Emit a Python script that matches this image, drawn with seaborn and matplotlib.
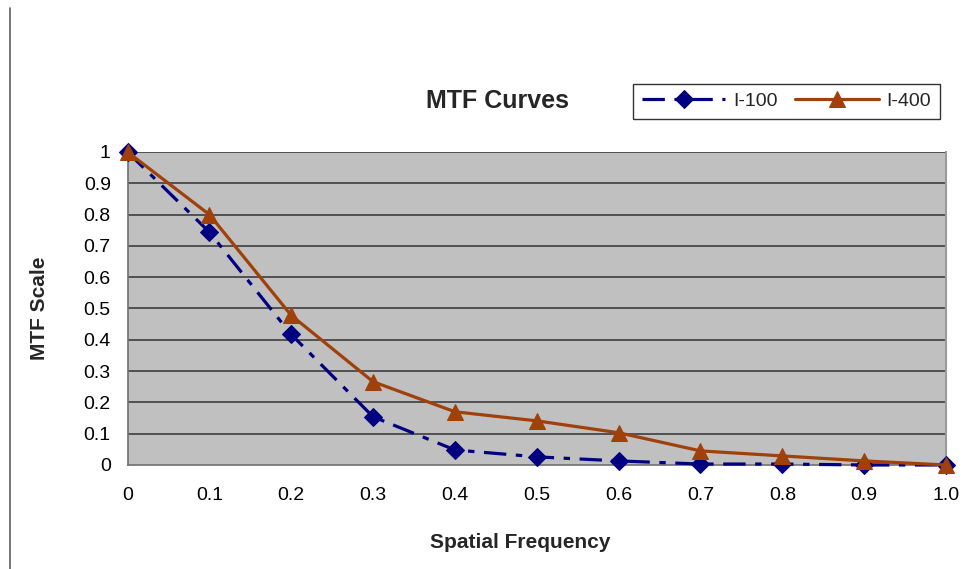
import matplotlib
matplotlib.use("Agg")
import matplotlib.pyplot as plt
from matplotlib.lines import Line2D
import seaborn as sns
import pandas as pd

# Data
freq = [0.0, 0.1, 0.2, 0.3, 0.4, 0.5, 0.6, 0.7, 0.8, 0.9, 1.0]
i100 = [1.0, 0.744, 0.417, 0.154, 0.048, 0.026, 0.013, 0.003, 0.003, 0.0, 0.0]
i400 = [1.0, 0.80, 0.478, 0.266, 0.17, 0.141, 0.103, 0.045, 0.029, 0.013, 0.0]
x_ticklabels = ["0", "0.1", "0.2", "0.3", "0.4", "0.5", "0.6", "0.7", "0.8", "0.9", "1.0"]
y_ticks = [0, 0.1, 0.2, 0.3, 0.4, 0.5, 0.6, 0.7, 0.8, 0.9, 1.0]
y_ticklabels = ["0", "0.1", "0.2", "0.3", "0.4", "0.5", "0.6", "0.7", "0.8", "0.9", "1"]

sns.set_style("white")
plt.rcParams["font.family"] = ["Liberation Sans", "DejaVu Sans"]

fig = plt.figure(figsize=(9.69, 5.69), dpi=100)
ax = fig.add_axes([0.1316, 0.1828, 0.9763 - 0.1316, 0.7329 - 0.1828])
ax.set_facecolor("#C0C0C0")

df100 = pd.DataFrame({"x": freq, "y": i100})
df400 = pd.DataFrame({"x": freq, "y": i400})

sns.lineplot(data=df100, x="x", y="y", ax=ax, color="#000080", marker="D",
             markersize=9.5, markeredgecolor="#000080", linewidth=2.3,
             linestyle=(0, (7, 3, 2, 3)), label="I-100", clip_on=False, zorder=4)
sns.lineplot(data=df400, x="x", y="y", ax=ax, color="#A0400A", marker="^",
             markersize=12, markeredgecolor="#A0400A", linewidth=2.3,
             linestyle="-", label="I-400", clip_on=False, zorder=5)

ax.set_xlim(0, 1.0)
ax.set_ylim(0, 1.0)
ax.set_xticks(freq)
ax.set_xticklabels(x_ticklabels, fontsize=14)
ax.set_yticks(y_ticks)
ax.set_yticklabels(y_ticklabels, fontsize=14)
ax.tick_params(axis="both", direction="out", length=6, width=1, color="#606060",
               pad=6, labelcolor="black")
ax.tick_params(axis="x", pad=10)

ax.grid(False)
for yv in y_ticks[1:]:
    ax.axhline(yv, color="#333333", linewidth=1.1, zorder=1)

for s in ["left", "bottom"]:
    ax.spines[s].set_color("#707070")
    ax.spines[s].set_linewidth(1.2)
ax.spines["right"].set_color("#9a9a9a")
ax.spines["right"].set_linewidth(1.5)
ax.spines["top"].set_visible(False)

ax.set_xlabel("Spatial Frequency", fontsize=15, fontweight="bold")
ax.set_ylabel("MTF Scale", fontsize=15, fontweight="bold")
ax.xaxis.set_label_coords((520 - 127) / 819, (465 - 533) / 313)
ax.yaxis.set_label_coords((48 - 127) / 819, 0.5)

ax.text((497 - 127) / 819, (465 - 101) / 313, "MTF Curves", transform=ax.transAxes,
        ha="center", va="center", fontsize=18, fontweight="bold")

leg = ax.legend(loc="center", bbox_to_anchor=((628 + 945) / 2 / 969, 1 - 101.5 / 569),
                bbox_transform=fig.transFigure, ncol=2, fontsize=14, frameon=True,
                fancybox=False, edgecolor="black", handlelength=4.3,
                columnspacing=0.9, handletextpad=0.4, borderpad=0.45)
leg.get_frame().set_linewidth(1.0)

fig.add_artist(Line2D([9.5 / 969, 9.5 / 969], [1 - 8 / 569, 0], transform=fig.transFigure,
                      color="#606060", linewidth=1.2))

fig.savefig("out.png", dpi=100)
